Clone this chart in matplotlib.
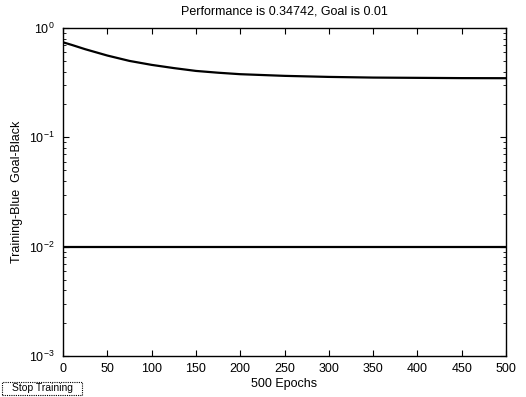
import matplotlib
matplotlib.use("Agg")
import matplotlib.pyplot as plt
from matplotlib.ticker import LogLocator, NullFormatter
from matplotlib.patches import FancyBboxPatch

epochs = [0, 10, 25, 50, 75, 100, 125, 150, 175, 200, 250, 300, 350, 400, 450, 500]
training = [0.74, 0.70, 0.64, 0.56, 0.50, 0.46, 0.43, 0.405, 0.39, 0.378, 0.365, 0.357, 0.352, 0.350, 0.348, 0.34742]
goal_epochs = [0, 500]
goal = [0.01, 0.01]
xticks = [0, 50, 100, 150, 200, 250, 300, 350, 400, 450, 500]

plt.rcParams['font.family'] = ['Liberation Sans', 'DejaVu Sans']
fig = plt.figure(figsize=(5.26, 3.97), dpi=100)
W, H = 526, 397
ax = fig.add_axes([63 / W, 1 - 356 / H, (506 - 63) / W, (356 - 28) / H])
ax.plot(epochs, training, color='black', lw=1.6)
ax.plot(goal_epochs, goal, color='black', lw=1.6)
ax.set_yscale('log')
ax.set_xlim(0, 500)
ax.set_ylim(1e-3, 1)
ax.set_xticks(xticks)
ax.yaxis.set_major_locator(LogLocator(base=10, numticks=10))
ax.yaxis.set_minor_locator(LogLocator(base=10, subs=range(2, 10), numticks=10))
ax.yaxis.set_minor_formatter(NullFormatter())
ax.tick_params(which='both', direction='in', top=True, right=True, labelsize=9)
ax.tick_params(which='major', length=4)
ax.tick_params(which='minor', length=2)
ax.tick_params(axis='y', pad=6)
ax.tick_params(axis='x', pad=5)
for s in ax.spines.values():
    s.set_linewidth(1.0)
ax.set_title('Performance is 0.34742, Goal is 0.01', fontsize=9, pad=10)
ax.set_xlabel('500 Epochs', fontsize=9, labelpad=2)
ax.set_ylabel('Training-Blue  Goal-Black', fontsize=9, labelpad=4)

btn = FancyBboxPatch((2 / W, 1 - 395 / H), 80 / W, 13 / H, boxstyle='square,pad=0',
                     transform=fig.transFigure, facecolor='white', edgecolor='black',
                     lw=0.8, ls=(0, (1, 1)))
fig.patches.append(btn)
fig.text(42 / W, 1 - 388 / H, 'Stop Training', ha='center', va='center', fontsize=7.5)

fig.savefig('out.png', dpi=100)
